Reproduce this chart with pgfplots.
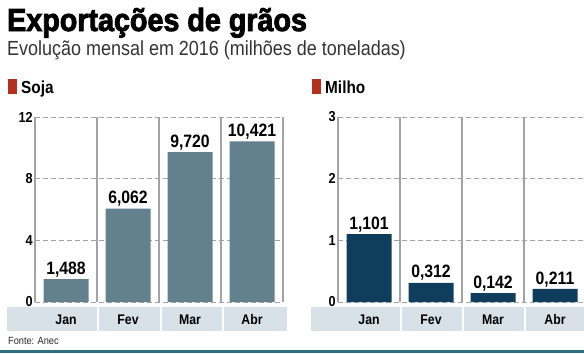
\documentclass[border=0pt]{standalone}
\usepackage{pgfplots}
\pgfplotsset{compat=1.18}
\usepackage{fontspec}
\setmainfont{Liberation Sans}[FakeStretch=0.88]
\newfontfamily\titlefont{Liberation Sans}[FakeStretch=0.9, BoldFeatures={FakeBold=2.6}]
\definecolor{soja}{HTML}{62818D}
\definecolor{milho}{HTML}{0E3E5C}
\definecolor{band}{HTML}{D8E1E7}
\definecolor{redsq}{HTML}{B5301C}
\definecolor{teal}{HTML}{2E6F80}
\definecolor{sep}{HTML}{A3A3A3}
\pgfplotsset{
  /pgf/number format/assume math mode=true,
  panel/.style={
    anchor=south west, scale only axis, width=248bp, height=185bp,
    xmin=0, xmax=4, ymin=0,
    xtick={0.5,1.5,2.5,3.5}, xticklabels={Jan,Fev,Mar,Abr},
    axis line style={draw=none}, major tick length=0pt,
    ymajorgrids, grid style={sep, line width=1bp, dash pattern=on 5bp off 3bp},
    ybar, bar width=45bp, clip=false,
    xticklabel style={font=\fontsize{14}{16}\selectfont\bfseries, anchor=center, yshift=-18bp},
    every y tick label/.append style={font=\fontsize{14.5}{16}\selectfont\bfseries, inner xsep=2bp},
    nodes near coords={\pgfmathprintnumber[fixed,fixed zerofill,precision=3,use comma]{\pgfplotspointmeta}},
    every node near coord/.append style={font=\fontsize{18}{20}\selectfont\bfseries, text=black, inner sep=2bp},
  }
}
\begin{document}
\begin{tikzpicture}[x=1bp,y=1bp]
\useasboundingbox (0,0) rectangle (584,353);
% title
\node[anchor=base west, inner sep=0] at (7,322) {\titlefont\bfseries\fontsize{32}{35}\selectfont Exportações de grãos};
\node[anchor=base west, inner sep=0, text=black!80] at (7,298) {\fontsize{20.5}{23}\selectfont Evolução mensal em 2016 (milhões de toneladas)};
% panel labels
\fill[redsq] (8,259) rectangle (17,274);
\node[anchor=base west, inner sep=0] at (21,260) {\fontsize{17.5}{19}\selectfont\bfseries Soja};
\fill[redsq] (312,259) rectangle (321,274);
\node[anchor=base west, inner sep=0] at (325,260) {\fontsize{17.5}{19}\selectfont\bfseries Milho};
% category bands
\fill[band] (7,22) rectangle (97,46);
\fill[band] (99,22) rectangle (160,46);
\fill[band] (162,22) rectangle (222,46);
\fill[band] (224,22) rectangle (287,46);
\fill[band] (311,22) rectangle (400,46);
\fill[band] (402,22) rectangle (462,46);
\fill[band] (464,22) rectangle (524,46);
\fill[band] (526,22) rectangle (584,46);
% source and bottom line
\node[anchor=base west, inner sep=0, text=black!85] at (8,9) {\fontsize{10.5}{12}\selectfont Fonte: Anec};
\fill[teal] (0,0) rectangle (584,3);

\begin{axis}[panel, at={(35bp,51bp)}, ymax=12, ytick={0,4,8,12}]
\addplot[fill=soja, draw=none] coordinates {(0.5,1.488) (1.5,6.062) (2.5,9.720) (3.5,10.421)};
\foreach \i in {0,1,2,3,4} {\edef\tmp{\noexpand\draw[sep, line width=1.4bp] (axis cs:\i,0) -- (axis cs:\i,12);}\tmp}
\end{axis}

\begin{axis}[panel, at={(338bp,51bp)}, ymax=3, ytick={0,1,2,3}]
\addplot[fill=milho, draw=none] coordinates {(0.5,1.101) (1.5,0.312) (2.5,0.142) (3.5,0.211)};
\foreach \i in {0,1,2,3,4} {\edef\tmp{\noexpand\draw[sep, line width=1.4bp] (axis cs:\i,0) -- (axis cs:\i,3);}\tmp}
\end{axis}
\end{tikzpicture}
\end{document}
